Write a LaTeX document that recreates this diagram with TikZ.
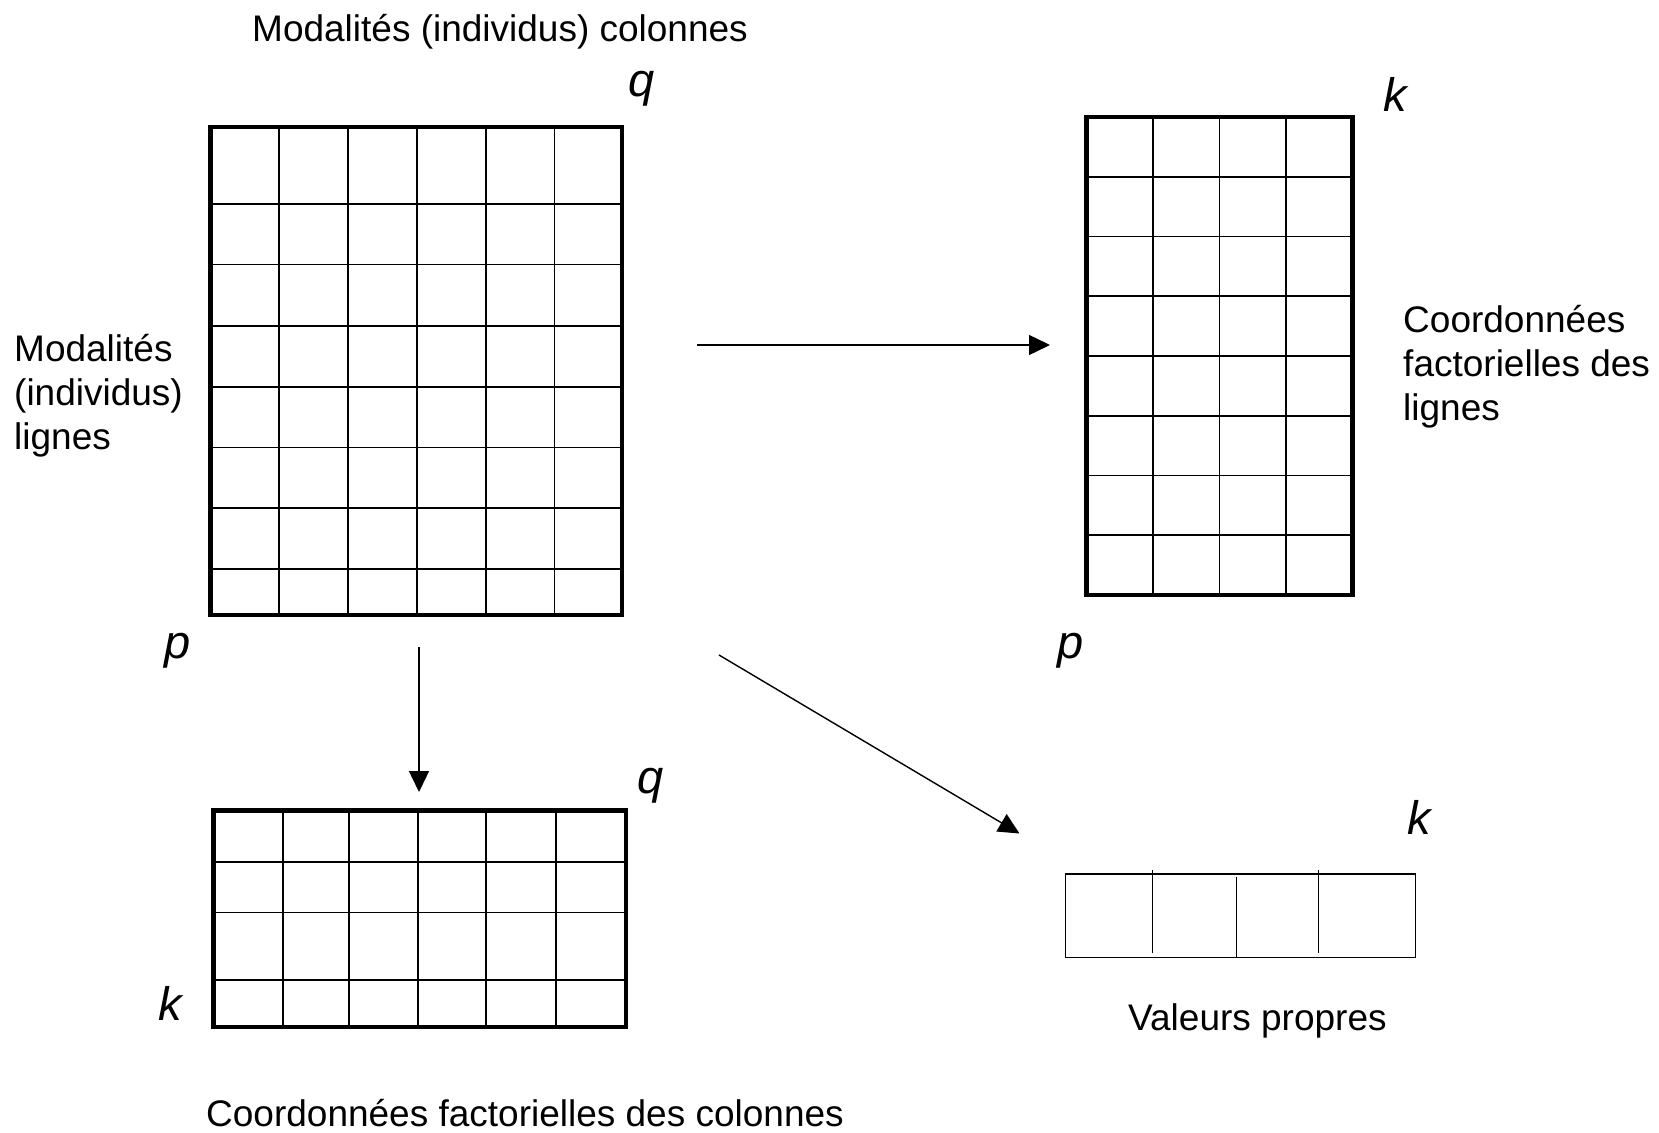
\documentclass[tikz,border=0pt]{standalone}
\usepackage{fontspec}
\setmainfont{Liberation Sans}
\usetikzlibrary{arrows.meta}
\begin{document}
\begin{tikzpicture}[x=1pt,y=-1pt,
  gridline/.style={line width=1.8pt},
  frame/.style={line width=4.5pt, line join=miter},
  thinbox/.style={line width=1.4pt},
  conn/.style={line width=1.4pt, -{Triangle[length=21pt,width=20pt]}},
  body/.style={font=\fontsize{37}{44}\selectfont, inner sep=0pt, align=left},
  dimlabel/.style={font=\fontsize{47}{50}\selectfont\itshape, inner sep=0pt}]
\useasboundingbox (0,0) rectangle (1659,1132);

% big grid (p x q)
\foreach \x in {279,348,417,485.6,554.4} \draw[gridline] (\x,127) -- (\x,615);
\foreach \y in {204,264.5,326,387,447.5,508,569} \draw[gridline] (210.5,\y) -- (622,\y);
\draw[frame] (210.5,127) rectangle (622,615);

% right grid (p x k)
\foreach \x in {1153.3,1219.5,1286} \draw[gridline] (\x,117) -- (\x,595);
\foreach \y in {176.75,236.5,296.25,356,415.75,475.5,535.25} \draw[gridline] (1086.7,\y) -- (1352.5,\y);
\draw[frame] (1086.7,117) rectangle (1352.5,595);

% bottom grid (k x q)
\foreach \x in {282.7,348.7,418,486,555.7} \draw[gridline] (\x,810.5) -- (\x,1027);
\foreach \y in {862,912.5,980} \draw[gridline] (213.5,\y) -- (626,\y);
\draw[frame] (213.5,810.5) rectangle (626,1027);

% eigenvalue box
\draw[thinbox] (1065.3,874) rectangle (1415.7,957.7);
\draw[thinbox] (1152.3,870) -- (1152.3,952.7);
\draw[thinbox] (1236.7,876.7) -- (1236.7,958.3);
\draw[thinbox] (1318.7,870) -- (1318.7,952.7);

% arrows
\coordinate (h1) at (697,345);
\coordinate (h2) at (1050,345);
\coordinate (v1) at (419,647);
\coordinate (v2) at (419,792);
\coordinate (d1) at (719,655);
\coordinate (d2) at (1019.5,833.5);
\draw[conn] (h1) -- (h2);
\draw[conn] (v1) -- (v2);
\draw[conn] (d1) -- (d2);

% texts (base anchor = baseline of last line)
\node[body, anchor=base west] (top) at (252,42) {Modalités (individus) colonnes};
\node[body, anchor=base west] (left) at (14,449) {Modalités\\(individus)\\lignes};
\node[body, anchor=base west] (right) at (1403,420) {Coordonnées\\factorielles des\\lignes};
\node[body, anchor=base west] (vp) at (1128,1030) {Valeurs propres};
\node[body, anchor=base west] (bot) at (206,1126) {Coordonnées factorielles des colonnes};

% dimension labels
\node[dimlabel, anchor=base] (q1) at (642,96) {q};
\node[dimlabel, anchor=base] (k1) at (1395,111) {k};
\node[dimlabel, anchor=base] (p1) at (178,658) {p};
\node[dimlabel, anchor=base] (p2) at (1071,658) {p};
\node[dimlabel, anchor=base] (q2) at (651,793) {q};
\node[dimlabel, anchor=base] (k2) at (170,1020) {k};
\node[dimlabel, anchor=base] (k3) at (1419,834) {k};
\end{tikzpicture}
\end{document}
